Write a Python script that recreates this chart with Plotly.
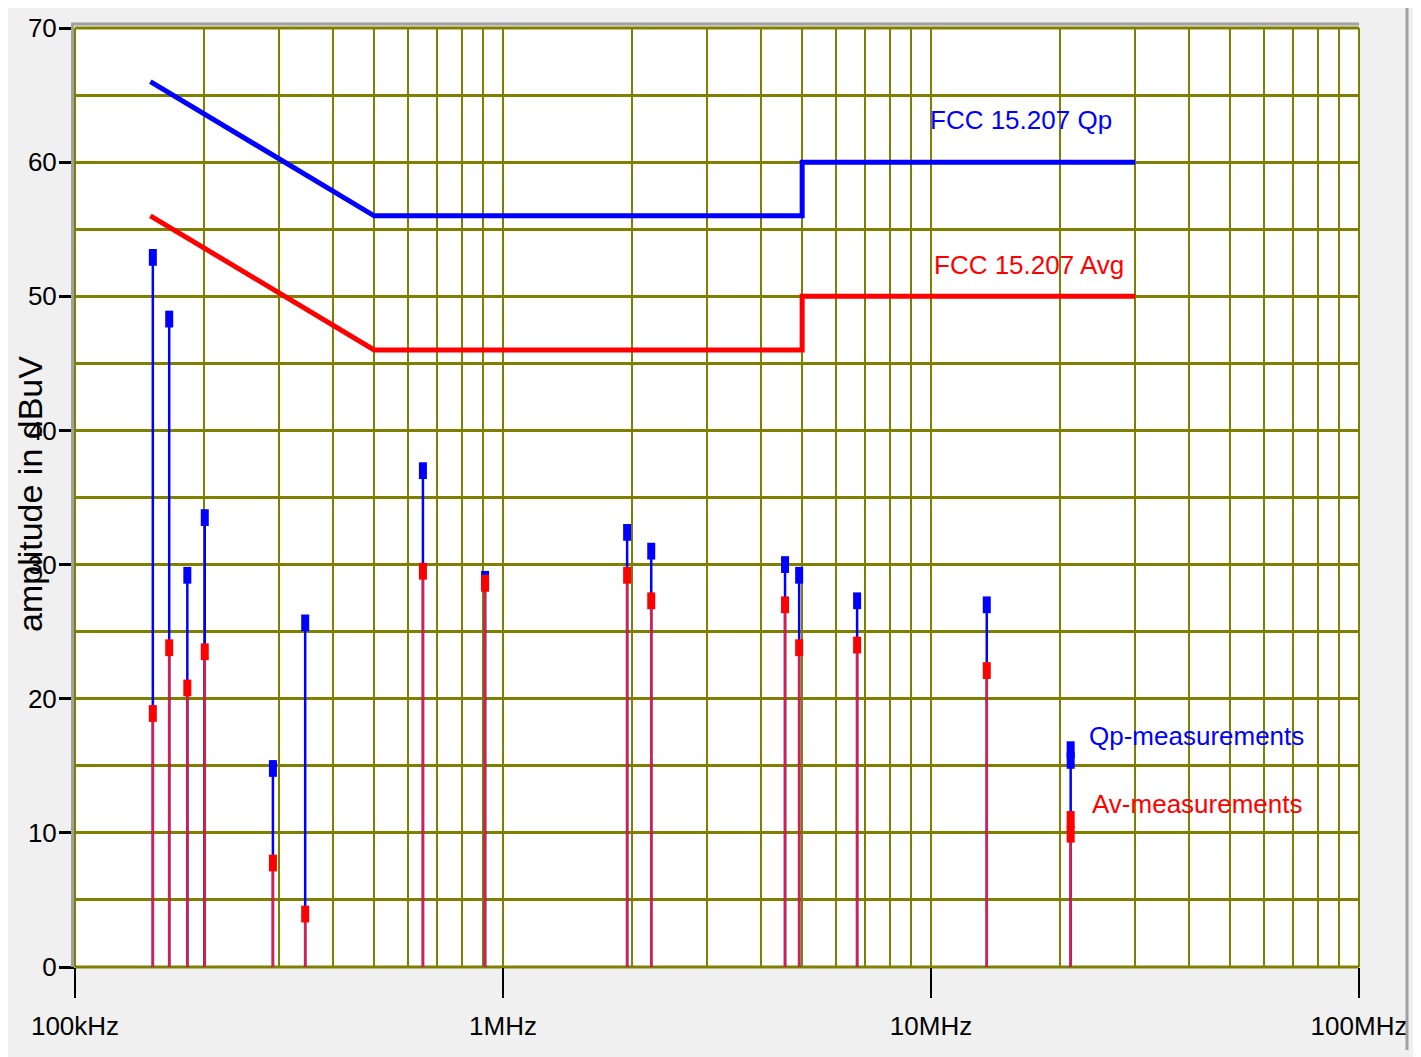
import plotly.graph_objects as go

# ---------------- data ----------------
freq_mhz = [0.152, 0.166, 0.183, 0.201, 0.290, 0.345, 0.650, 0.908,
            1.95, 2.22, 4.56, 4.92, 6.72, 13.5]
qp_dbuv = [52.9, 48.3, 29.2, 33.5, 14.8, 25.65, 37.0, 28.9,
           32.4, 31.0, 30.0, 29.2, 27.3, 27.0]
av_dbuv = [18.9, 23.8, 20.8, 23.5, 7.75, 3.95, 29.5, 28.6,
           29.2, 27.3, 27.0, 23.8, 24.0, 22.1]

legend_freq = 21.2
legend_qp = [16.2, 15.4]
legend_av = [11.0, 9.9]

qp_limit_freq = [0.15, 0.5, 5.0, 5.0, 30.0]
qp_limit = [66, 56, 56, 60, 60]
av_limit_freq = [0.15, 0.5, 5.0, 5.0, 30.0]
av_limit = [56, 46, 46, 50, 50]

x_tickvals = [0.1, 1, 10, 100]
x_ticktext = ["100kHz", "1MHz", "10MHz", "100MHz"]
x_minor = [0.2, 0.3, 0.4, 0.5, 0.6, 0.7, 0.8, 0.9,
           2, 3, 4, 5, 6, 7, 8, 9,
           20, 30, 40, 50, 60, 70, 80, 90]
y_tickvals = [0, 10, 20, 30, 40, 50, 60, 70]

# ---------------- styles ----------------
OLIVE = "#808000"
BLUE = "#0000ff"
RED = "#ff0000"
STEM_RED = "#d81e4a"
FONT = "Liberation Sans, Arial, sans-serif"

# page body has an 8px default margin; work in screen pixels
OFF = 8
W, H = 1421, 1057
L, R, T, B = 75, 1359, 28, 967   # plot area in screen pixels


def stems(xs, ys):
    sx, sy = [], []
    for x, y in zip(xs, ys):
        sx += [x, x, None]
        sy += [0, y, None]
    return sx, sy


fig = go.Figure()

all_f = freq_mhz + [legend_freq]
all_qp = qp_dbuv + [max(legend_qp)]
all_av = av_dbuv + [min(legend_av)]

bx, by = stems(all_f, all_qp)
fig.add_trace(go.Scatter(x=bx, y=by, mode="lines", line=dict(color=BLUE, width=2.5),
                         hoverinfo="skip"))
rx, ry = stems(all_f, all_av)
fig.add_trace(go.Scatter(x=rx, y=ry, mode="lines", line=dict(color=STEM_RED, width=2.5),
                         hoverinfo="skip"))

# limit lines
fig.add_trace(go.Scatter(x=qp_limit_freq, y=qp_limit, mode="lines",
                         line=dict(color=BLUE, width=5)))
fig.add_trace(go.Scatter(x=av_limit_freq, y=av_limit, mode="lines",
                         line=dict(color=RED, width=5)))

# markers
mk_qp_x = freq_mhz + [legend_freq] * len(legend_qp)
mk_qp_y = qp_dbuv + legend_qp
mk_av_x = freq_mhz + [legend_freq] * len(legend_av)
mk_av_y = av_dbuv + legend_av
fig.add_trace(go.Scatter(x=mk_qp_x, y=mk_qp_y, mode="markers",
                         marker=dict(symbol="line-ns", size=12,
                                     line=dict(color=BLUE, width=8))))
fig.add_trace(go.Scatter(x=mk_av_x, y=mk_av_y, mode="markers",
                         marker=dict(symbol="line-ns", size=12,
                                     line=dict(color=RED, width=8))))

tickfont = dict(family=FONT, size=26, color="black")

fig.update_layout(
    width=W, height=H, autosize=False,
    margin=dict(l=L - OFF, r=W - (R - OFF), t=T - OFF, b=H - (B - OFF),
                autoexpand=False),
    paper_bgcolor="#f0f0f0", plot_bgcolor="white",
    showlegend=False, hovermode=False,
    xaxis=dict(type="log", range=[-1, 2], automargin=False,
               tickmode="array", tickvals=x_tickvals, ticktext=x_ticktext,
               ticks="outside", ticklen=30, tickwidth=2, tickcolor="black",
               tickfont=tickfont, ticklabelstandoff=6,
               showgrid=True, gridcolor=OLIVE, gridwidth=2,
               minor=dict(tickvals=x_minor, showgrid=True, gridcolor=OLIVE,
                          gridwidth=2, ticks=""),
               zeroline=False, showline=False),
    yaxis=dict(range=[0, 70], automargin=False,
               tickmode="array", tickvals=y_tickvals,
               ticks="outside", ticklen=15, tickwidth=3, tickcolor="black",
               tickfont=tickfont, ticklabelstandoff=-3,
               showgrid=True, gridcolor=OLIVE, gridwidth=3,
               minor=dict(dtick=5, showgrid=True, gridcolor=OLIVE,
                          gridwidth=3, ticks=""),
               zeroline=False, showline=False),
)

PW, PH = R - L, B - T


def px(xp):
    return (xp - L) / PW


def py(yp):
    return (B - yp) / PH


# edge grid lines (olive) of the plot area
for (x0, x1, y0, y1, w) in [(0, 1, 1, 1, 3), (0, 1, 0, 0, 3),
                            (0, 0, 0, 1, 2), (1, 1, 0, 1, 2)]:
    fig.add_shape(type="line", xref="paper", yref="paper", layer="below",
                  x0=x0, x1=x1, y0=y0, y1=y1, line=dict(color=OLIVE, width=w))

# frame lines (gray)
fig.add_shape(type="line", xref="paper", yref="paper",
              x0=px(71), x1=px(1359), y0=py(24), y1=py(24),
              line=dict(color="#a0a0a0", width=3))
fig.add_shape(type="line", xref="paper", yref="paper",
              x0=px(72.5), x1=px(72.5), y0=py(967), y1=py(24),
              line=dict(color="#a0a0a0", width=3))
fig.add_shape(type="line", xref="paper", yref="paper",
              x0=px(1407), x1=px(1407), y0=py(1050), y1=py(0),
              line=dict(color="#a0a0a0", width=3))

ann_font = dict(family=FONT, size=26)
fig.add_annotation(xref="paper", yref="paper", x=px(1021), y=py(120),
                   xanchor="center", yanchor="middle", showarrow=False,
                   text="FCC 15.207 Qp", font=dict(ann_font, color=BLUE))
fig.add_annotation(xref="paper", yref="paper", x=px(1029), y=py(265),
                   xanchor="center", yanchor="middle", showarrow=False,
                   text="FCC 15.207 Avg", font=dict(ann_font, color=RED))
fig.add_annotation(xref="paper", yref="paper", x=px(1196), y=py(736),
                   xanchor="center", yanchor="middle", showarrow=False,
                   text="Qp-measurements", font=dict(ann_font, color=BLUE))
fig.add_annotation(xref="paper", yref="paper", x=px(1197), y=py(804),
                   xanchor="center", yanchor="middle", showarrow=False,
                   text="Av-measurements", font=dict(ann_font, color=RED))

fig.add_annotation(xref="paper", yref="paper", x=px(30), y=py(494),
                   xanchor="center", yanchor="middle", showarrow=False,
                   textangle=-90, text="amplitude in dBuV",
                   font=dict(family=FONT, size=34, color="black"))

fig.write_html("out.html")
